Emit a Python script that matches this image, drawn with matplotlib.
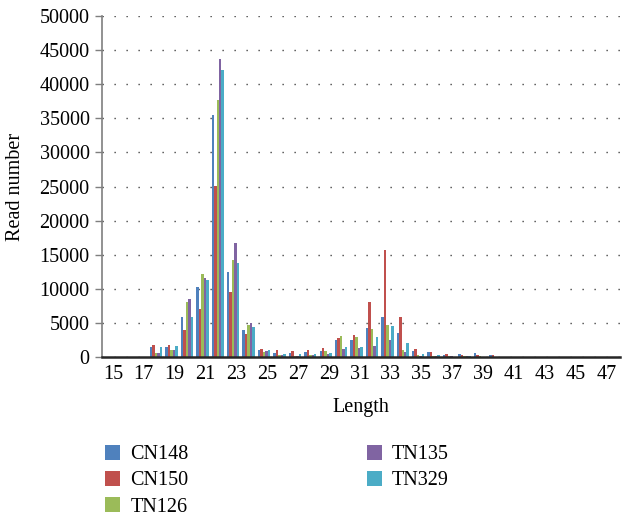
import numpy as np
import matplotlib
matplotlib.use('Agg')
import matplotlib.pyplot as plt

plt.rcParams['font.family'] = ['Liberation Serif', 'DejaVu Serif']

lengths = np.arange(15, 48)
series = ['CN148', 'CN150', 'TN126', 'TN135', 'TN329']
cores = ['#4F81BD', '#C0504D', '#9BBB59', '#8064A2', '#4BACC6']

# leituras por comprimento 15..47
cn148 = [0, 0, 0, 1510, 1510, 5870, 10300, 35440, 12460, 3910, 1020, 630, 630, 730, 930,
         2490, 2490, 4250, 5820, 3470, 880, 730, 340, 440, 580, 340, 60, 50, 40, 40, 30, 30, 30]
cn150 = [0, 0, 0, 1760, 1760, 4010, 7040, 25120, 9490, 3320, 1220, 1020, 930, 1020, 1320,
         2730, 3180, 8020, 15690, 5910, 1170, 780, 440, 340, 340, 240, 60, 50, 40, 40, 30, 30, 30]
tn126 = [0, 0, 0, 630, 1030, 8060, 12120, 37730, 14220, 4690, 730, 240, 150, 290, 830,
         3120, 2980, 4100, 4690, 1080, 240, 150, 100, 100, 100, 60, 40, 30, 30, 30, 20, 20, 20]
tn135 = [0, 0, 0, 630, 1030, 8450, 11530, 43650, 16760, 5030, 880, 240, 150, 240, 390,
         1170, 1320, 1610, 2490, 730, 200, 200, 100, 100, 80, 60, 40, 30, 30, 30, 20, 20, 20]
tn329 = [0, 0, 0, 1510, 1660, 5910, 11340, 42080, 13740, 4450, 1020, 490, 440, 440, 580,
         1460, 1520, 2930, 4500, 2050, 390, 290, 80, 100, 80, 60, 40, 30, 30, 30, 20, 20, 20]
dados = [cn148, cn150, tn126, tn135, tn329]

fig = plt.figure(figsize=(6.22, 5.19), dpi=100)
ax = fig.add_axes([0.164, 0.312, 0.833, 0.657])

largura = 0.16
for i, (nome, vals, cor) in enumerate(zip(series, dados, cores)):
    pos = lengths - 0.2 + (i - 2) * largura
    ax.bar(pos, vals, width=largura, color=cor, label=nome, zorder=3)

ax.set_xlim(14.29, 47.9)
ax.set_ylim(0, 50000)
ax.set_yticks(np.arange(0, 50001, 5000))
ax.set_xticks(lengths[::2])
ax.yaxis.grid(True, color='#333333', linestyle=(0, (0.9, 7.74)), linewidth=1.0, zorder=0)

for s in ['top', 'right']:
    ax.spines[s].set_visible(False)
ax.spines['left'].set_color('#7f7f7f')
ax.spines['left'].set_linewidth(1.2)
ax.spines['bottom'].set_color('#262626')
ax.spines['bottom'].set_linewidth(1.8)
ax.spines['bottom'].set_zorder(4)

ax.tick_params(axis='y', direction='out', length=5, width=1, color='#7f7f7f', labelsize=14.5, pad=4)
ax.tick_params(axis='x', length=0, labelsize=14.5, pad=6)

ax.set_xlabel('Length', fontsize=14.5, labelpad=10)
ax.set_ylabel('Read number', fontsize=14.5, labelpad=10)

leg = fig.legend(loc='upper left', bbox_to_anchor=(0.156, 0.158), ncol=2, frameon=False,
                 fontsize=14.5, handlelength=0.75, handleheight=0.75, handletextpad=0.5,
                 columnspacing=8.85, labelspacing=0.33, borderaxespad=0)

fig.savefig('out.png', dpi=100)
